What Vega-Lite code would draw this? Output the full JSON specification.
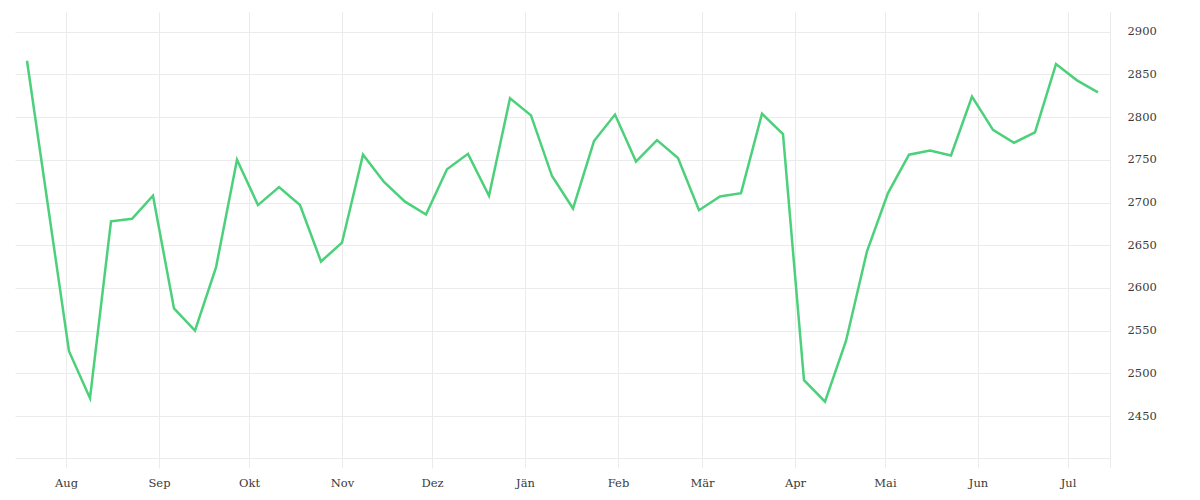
{
  "$schema": "https://vega.github.io/schema/vega-lite/v6.json",
  "autosize": {"type": "none"},
  "padding": {"left": 15, "top": 12, "right": 90, "bottom": 42},
  "width": 1095,
  "height": 446,
  "background": "white",
  "config": {
    "view": {"stroke": null},
    "axis": {"labelFont": "DejaVu Serif", "labelFontSize": 11.5, "labelColor": "#3a3a3a", "gridColor": "#ebebeb", "gridWidth": 1, "tickColor": "#ebebeb", "domainColor": "#ebebeb"}
  },
  "data": {
    "values": [
      {"date": "2018-07-19", "value": 2866},
      {"date": "2018-07-26", "value": 2696},
      {"date": "2018-08-02", "value": 2526},
      {"date": "2018-08-09", "value": 2471},
      {"date": "2018-08-16", "value": 2678},
      {"date": "2018-08-23", "value": 2681},
      {"date": "2018-08-30", "value": 2708},
      {"date": "2018-09-06", "value": 2576},
      {"date": "2018-09-13", "value": 2550},
      {"date": "2018-09-20", "value": 2624},
      {"date": "2018-09-27", "value": 2750},
      {"date": "2018-10-04", "value": 2697},
      {"date": "2018-10-11", "value": 2718},
      {"date": "2018-10-18", "value": 2697},
      {"date": "2018-10-25", "value": 2631},
      {"date": "2018-11-01", "value": 2653},
      {"date": "2018-11-08", "value": 2756},
      {"date": "2018-11-15", "value": 2724},
      {"date": "2018-11-22", "value": 2701},
      {"date": "2018-11-29", "value": 2686},
      {"date": "2018-12-06", "value": 2739},
      {"date": "2018-12-13", "value": 2757},
      {"date": "2018-12-20", "value": 2708},
      {"date": "2018-12-27", "value": 2822},
      {"date": "2019-01-03", "value": 2802},
      {"date": "2019-01-10", "value": 2731},
      {"date": "2019-01-17", "value": 2693},
      {"date": "2019-01-24", "value": 2772},
      {"date": "2019-01-31", "value": 2803},
      {"date": "2019-02-07", "value": 2748},
      {"date": "2019-02-14", "value": 2773},
      {"date": "2019-02-21", "value": 2752},
      {"date": "2019-02-28", "value": 2691},
      {"date": "2019-03-07", "value": 2707},
      {"date": "2019-03-14", "value": 2711},
      {"date": "2019-03-21", "value": 2804},
      {"date": "2019-03-28", "value": 2780},
      {"date": "2019-04-04", "value": 2492},
      {"date": "2019-04-11", "value": 2467},
      {"date": "2019-04-18", "value": 2538},
      {"date": "2019-04-25", "value": 2643},
      {"date": "2019-05-02", "value": 2711},
      {"date": "2019-05-09", "value": 2756},
      {"date": "2019-05-16", "value": 2761},
      {"date": "2019-05-23", "value": 2755},
      {"date": "2019-05-30", "value": 2824},
      {"date": "2019-06-06", "value": 2785},
      {"date": "2019-06-13", "value": 2770},
      {"date": "2019-06-20", "value": 2782},
      {"date": "2019-06-27", "value": 2862},
      {"date": "2019-07-04", "value": 2843},
      {"date": "2019-07-11", "value": 2829}
    ]
  },
  "mark": {"type": "line", "color": "#4cd07b", "strokeWidth": 2.5, "strokeJoin": "miter"},
  "encoding": {
    "x": {
      "field": "date",
      "type": "temporal",
      "scale": {
        "type": "utc",
        "domain": [
          {"year": 2018, "month": 7, "date": 15, "utc": true},
          {"year": 2019, "month": 7, "date": 15, "utc": true}
        ]
      },
      "axis": {
        "title": null,
        "values": [
          {"year": 2018, "month": 8, "date": 1, "utc": true},
          {"year": 2018, "month": 9, "date": 1, "utc": true},
          {"year": 2018, "month": 10, "date": 1, "utc": true},
          {"year": 2018, "month": 11, "date": 1, "utc": true},
          {"year": 2018, "month": 12, "date": 1, "utc": true},
          {"year": 2019, "month": 1, "date": 1, "utc": true},
          {"year": 2019, "month": 2, "date": 1, "utc": true},
          {"year": 2019, "month": 3, "date": 1, "utc": true},
          {"year": 2019, "month": 4, "date": 1, "utc": true},
          {"year": 2019, "month": 5, "date": 1, "utc": true},
          {"year": 2019, "month": 6, "date": 1, "utc": true},
          {"year": 2019, "month": 7, "date": 1, "utc": true},
          {"year": 2019, "month": 7, "date": 15, "utc": true}
        ],
        "labelExpr": "utcdate(datum.value) == 1 ? ['Jän','Feb','Mär','Apr','Mai','Jun','Jul','Aug','Sep','Okt','Nov','Dez'][utcmonth(datum.value)] : ''",
        "grid": true,
        "ticks": true,
        "tickSize": 10,
        "domain": true,
        "labelPadding": 9,
        "labelFlush": false,
        "labelOverlap": false
      }
    },
    "y": {
      "field": "value",
      "type": "quantitative",
      "scale": {"domain": [2401, 2923], "nice": false, "zero": false},
      "axis": {
        "title": null,
        "orient": "right",
        "format": "d",
        "values": [2450, 2500, 2550, 2600, 2650, 2700, 2750, 2800, 2850, 2900],
        "grid": true,
        "ticks": false,
        "domain": false,
        "labelPadding": 17,
        "labelFlush": false,
        "labelOverlap": false
      }
    }
  }
}
